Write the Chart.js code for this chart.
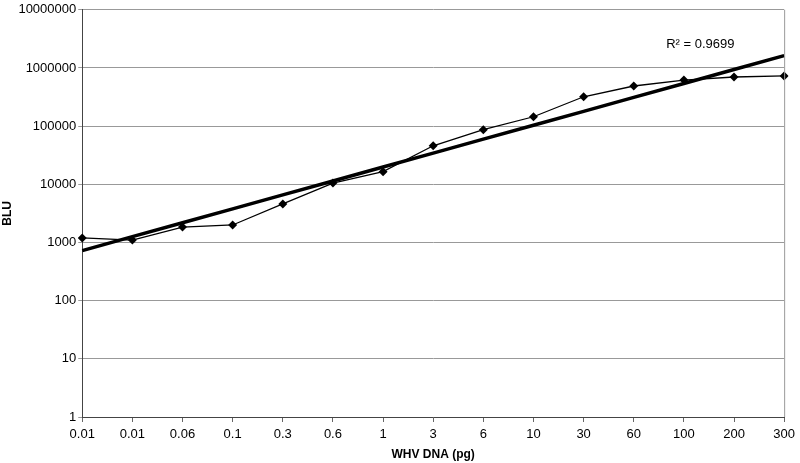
<!DOCTYPE html>
<html>
<head>
<meta charset="utf-8">
<script src="https://cdn.jsdelivr.net/npm/chart.js@4"></script>
<style>
  html, body { margin: 0; padding: 0; background: #fff; }
  #wrap { width: 800px; height: 463px; }
</style>
</head>
<body>
<div id="wrap"><canvas id="blu"></canvas></div>
<script>
// categories (pg of WHV DNA) and measured light units
const doses = ['0.01', '0.01', '0.06', '0.1', '0.3', '0.6', '1', '3', '6', '10', '30', '60', '100', '200', '300'];
const bluValues = [1200, 1100, 1840, 2000, 4600, 10500, 16500, 46000, 87000, 145000, 320000, 490000, 620000, 700000, 730000];
const yTicks = [1, 10, 100, 1000, 10000, 100000, 1000000, 10000000];
const rSquaredLabel = 'R\u00B2 = 0.9699';

// exponential trendline (least squares on log values vs category index, like Excel)
function expTrend(values) {
  const n = values.length;
  const xs = values.map((v, i) => i + 1);
  const ls = values.map(v => Math.log(v));
  const mx = xs.reduce((a, b) => a + b, 0) / n;
  const ml = ls.reduce((a, b) => a + b, 0) / n;
  let sxy = 0, sxx = 0;
  for (let i = 0; i < n; i++) {
    sxy += (xs[i] - mx) * (ls[i] - ml);
    sxx += (xs[i] - mx) * (xs[i] - mx);
  }
  const b = sxy / sxx;
  const a = ml - b * mx;
  return xs.map(x => Math.exp(a + b * x));
}
const trend = expTrend(bluValues);

const r2Label = {
  id: 'r2Label',
  afterDatasetsDraw(chart) {
    const { ctx, chartArea } = chart;
    ctx.save();
    ctx.font = '13px "Liberation Sans", Arial, sans-serif';
    ctx.fillStyle = '#000';
    ctx.textBaseline = 'middle';
    ctx.fillText(rSquaredLabel, chartArea.right - 118, chartArea.top + 35);
    ctx.restore();
  }
};

Chart.defaults.font.family = '"Liberation Sans", Arial, sans-serif';
Chart.defaults.color = '#000';

new Chart(document.getElementById('blu'), {
  type: 'line',
  data: {
    labels: doses,
    datasets: [
      {
        label: 'BLU',
        data: bluValues,
        borderColor: '#000',
        backgroundColor: '#000',
        borderWidth: 1.3,
        pointStyle: 'rectRot',
        pointRadius: 4.5,
        pointBorderWidth: 0,
        tension: 0,
        order: 2
      },
      {
        label: 'Trend',
        data: trend,
        borderColor: '#000',
        borderWidth: 3.5,
        pointRadius: 0,
        tension: 0,
        order: 1
      }
    ]
  },
  options: {
    responsive: true,
    maintainAspectRatio: false,
    animation: false,
    layout: { padding: { top: 0, right: 12, bottom: 1, left: 0 } },
    plugins: {
      legend: { display: false },
      tooltip: { enabled: false }
    },
    scales: {
      x: {
        offset: false,
        grid: { display: true, drawOnChartArea: false, color: '#666', tickLength: 5 },
        border: { color: '#444', width: 1 },
        ticks: { font: { size: 13 }, padding: 5, maxRotation: 0, autoSkip: false },
        title: {
          display: true,
          text: 'WHV DNA (pg)',
          font: { size: 12, weight: 'bold' },
          padding: { top: 0, bottom: 0 }
        }
      },
      y: {
        type: 'logarithmic',
        min: 1,
        max: 10000000,
        afterBuildTicks: axis => { axis.ticks = yTicks.map(v => ({ value: v })); },
        grid: { color: '#999', tickLength: 4 },
        border: { color: '#444', width: 1 },
        ticks: {
          font: { size: 13 },
          padding: 2,
          callback: v => String(v)
        },
        title: {
          display: true,
          text: 'BLU',
          font: { size: 12, weight: 'bold' },
          padding: { top: 0, bottom: 2 }
        }
      }
    }
  },
  plugins: [r2Label, {
    id: 'rightEdge',
    afterDraw(chart) {
      const { ctx, chartArea } = chart;
      ctx.save();
      ctx.strokeStyle = '#999';
      ctx.lineWidth = 1;
      ctx.beginPath();
      ctx.moveTo(chartArea.right + 0.5, chartArea.top);
      ctx.lineTo(chartArea.right + 0.5, chartArea.bottom);
      ctx.stroke();
      ctx.restore();
    }
  }]
});
</script>
</body>
</html>
